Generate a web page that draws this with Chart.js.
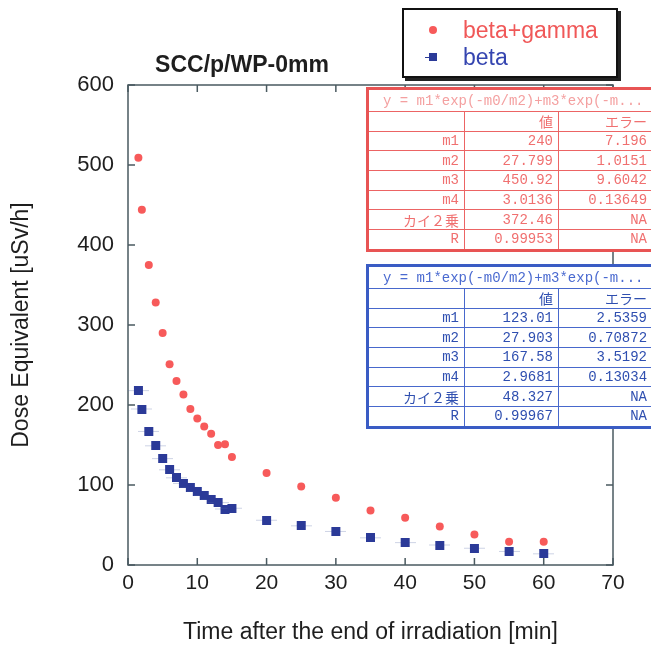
<!DOCTYPE html>
<html>
<head>
<meta charset="utf-8">
<script src="https://cdn.jsdelivr.net/npm/chart.js@4.4.0/dist/chart.umd.min.js"></script>
<style>
    html, body { margin: 0; padding: 0; background: #fff; }
    #wrap { position: relative; width: 651px; height: 649px; overflow: hidden; }
    #doseChart { position: absolute; left: 0; top: 0; }

    .legend {
        position: absolute; left: 402px; top: 8px; width: 212px; height: 66px;
        border: 2px solid #111; box-shadow: 3px 3px 0 #222; background: #fff;
        font-family: 'Liberation Sans', Arial, sans-serif; font-size: 23px;
    }
    .legend .item { position: absolute; left: 0; width: 100%; height: 26px; }
    .legend .mark { position: absolute; top: 13px; }
    .legend .label { position: absolute; left: 59px; top: 0; line-height: 26px; }

    .fit {
        position: absolute; left: 366px; width: 286px; table-layout: fixed;
        border-collapse: collapse; background: #fff;
        font-family: 'Liberation Mono', 'Noto Sans CJK JP', monospace; font-size: 14px;
    }
    .fit td { padding: 0 5px 0 0; text-align: right; height: 18.7px; line-height: 18px; white-space: nowrap; overflow: hidden; }
    .fit td.eq { text-align: left; padding-left: 14px; height: 21px; }
    .fit td.jp { font-family: 'Noto Sans CJK JP', sans-serif; }
    .fit.red { top: 87px; border: 3px solid #e85454; color: #f07070; }
    .fit.red td { border: 1px solid #ec6464; }
    .fit.red td.eq { color: #f4a0a0; }
    .fit.blue { top: 264px; border: 3px solid #3a5cc4; color: #2f4fb0; }
    .fit.blue td { border: 1px solid #4868cc; }
    .fit.blue td.eq { color: #4a6ad0; }
</style>
</head>
<body>
<div id="wrap">
    <canvas id="doseChart" width="651" height="649"></canvas>
    <div class="legend" id="legend"></div>
    <table class="fit red" id="fitRed"></table>
    <table class="fit blue" id="fitBlue"></table>
</div>
<script>
// Measured dose rate after irradiation stops
const times = [1.5, 2, 3, 4, 5, 6, 7, 8, 9, 10, 11, 12, 13, 14, 15, 20, 25, 30, 35, 40, 45, 50, 55, 60];
const betaGamma = [509, 444, 375, 328, 290, 251, 230, 213, 195, 183, 173, 164, 150, 151, 135, 115, 98, 84, 68, 59, 48, 38, 29, 29];
const beta = [218, 195, 167, 149, 133, 119, 109, 102, 97, 92, 87, 82, 78, 70, 71, 56, 49, 42, 34, 28, 25, 21, 17, 14];

const seriesNames = ['beta+gamma', 'beta'];
const chartTitle = 'SCC/p/WP-0mm';
const xTitle = 'Time after the end of irradiation [min]';
const yTitle = 'Dose Equivalent [uSv/h]';

// Two-exponential fit results
const fitEquation = 'y = m1*exp(-m0/m2)+m3*exp(-m...';
const fitHeader = ['', '値', 'エラー'];
const fitRows = ['m1', 'm2', 'm3', 'm4', 'カイ２乗', 'R'];
const fitBetaGammaValues = ['240', '27.799', '450.92', '3.0136', '372.46', '0.99953'];
const fitBetaGammaErrors = ['7.196', '1.0151', '9.6042', '0.13649', 'NA', 'NA'];
const fitBetaValues = ['123.01', '27.903', '167.58', '2.9681', '48.327', '0.99967'];
const fitBetaErrors = ['2.5359', '0.70872', '3.5192', '0.13034', 'NA', 'NA'];

const RED = '#f75a5a';
const BLUE = '#2b3a98';
const AXIS = '#4a5a60';
const FONT = "'Liberation Sans', Arial, sans-serif";

// Square marker with a faint horizontal error bar through it
function squareMarker() {
    const c = document.createElement('canvas');
    c.width = 21;
    c.height = 9;
    const g = c.getContext('2d');
    g.fillStyle = 'rgba(90, 110, 170, 0.3)';
    g.fillRect(0, 4, 21, 1);
    g.fillStyle = BLUE;
    g.fillRect(6, 0, 9, 9);
    return c;
}

const points = (ys) => times.map((t, i) => ({ x: t, y: ys[i] }));

// Box around the plot with inward ticks on all four sides, plus the title
const framePlugin = {
    id: 'frame',
    beforeDatasetsDraw(chart) {
        const { ctx, chartArea: a, scales: { x, y } } = chart;
        ctx.save();
        ctx.strokeStyle = AXIS;
        ctx.lineWidth = 1.5;
        ctx.strokeRect(a.left, a.top, a.right - a.left, a.bottom - a.top);
        ctx.beginPath();
        x.ticks.forEach((t) => {
            const px = x.getPixelForValue(t.value);
            ctx.moveTo(px, a.bottom); ctx.lineTo(px, a.bottom - 7);
            ctx.moveTo(px, a.top); ctx.lineTo(px, a.top + 7);
        });
        y.ticks.forEach((t) => {
            const py = y.getPixelForValue(t.value);
            ctx.moveTo(a.left, py); ctx.lineTo(a.left + 7, py);
            ctx.moveTo(a.right, py); ctx.lineTo(a.right - 7, py);
        });
        ctx.stroke();
        ctx.restore();
    },
    afterDraw(chart) {
        const { ctx, chartArea: a } = chart;
        ctx.save();
        ctx.font = `bold 23px ${FONT}`;
        ctx.fillStyle = '#1e1e1e';
        ctx.textAlign = 'center';
        ctx.textBaseline = 'middle';
        ctx.fillText(chartTitle, a.left + 114, a.top - 19);
        ctx.restore();
    },
};

const chart = new Chart(document.getElementById('doseChart'), {
    type: 'scatter',
    data: {
        datasets: [
            {
                label: seriesNames[0],
                data: points(betaGamma),
                pointStyle: 'circle',
                pointRadius: 4,
                backgroundColor: RED,
                borderWidth: 0,
            },
            {
                label: seriesNames[1],
                data: points(beta),
                pointStyle: squareMarker(),
                backgroundColor: BLUE,
                borderWidth: 0,
            },
        ],
    },
    options: {
        responsive: false,
        animation: false,
        layout: { padding: { top: 85, right: 38, left: 0, bottom: 0 } },
        plugins: { legend: { display: false }, tooltip: { enabled: false } },
        scales: {
            x: {
                type: 'linear', min: 0, max: 70,
                border: { display: false },
                grid: { display: false, drawTicks: false },
                ticks: { stepSize: 10, padding: 6, color: '#1e1e1e', font: { family: FONT, size: 21 } },
                title: { display: true, text: xTitle, color: '#1e1e1e', padding: { top: 0, bottom: 3 }, font: { family: FONT, size: 23 } },
                afterFit: (s) => { s.height = 84; },
            },
            y: {
                min: 0, max: 600,
                border: { display: false },
                grid: { display: false, drawTicks: false },
                ticks: { stepSize: 100, padding: 14, color: '#1e1e1e', font: { family: FONT, size: 22 } },
                title: { display: true, text: yTitle, color: '#1e1e1e', padding: { top: 8, bottom: 0 }, font: { family: FONT, size: 23 } },
                afterFit: (s) => { s.width = 128; },
            },
        },
    },
    plugins: [framePlugin],
});

// Legend built from the chart's datasets
function buildLegend() {
    const box = document.getElementById('legend');
    chart.data.datasets.forEach((ds, i) => {
        const item = document.createElement('div');
        item.className = 'item';
        item.style.top = (7 + i * 27) + 'px';
        const mark = document.createElement('div');
        mark.className = 'mark';
        if (i === 0) {
            Object.assign(mark.style, { left: '25px', width: '8px', height: '8px', marginTop: '-4px', borderRadius: '50%', background: RED });
        } else {
            Object.assign(mark.style, { left: '21px', width: '12px', height: '8px', marginTop: '-4px' });
            mark.innerHTML = `<div style="position:absolute;left:0;top:4px;width:5px;height:1px;background:${BLUE}"></div>`
                + `<div style="position:absolute;left:4px;top:0;width:8px;height:8px;background:${BLUE}"></div>`;
        }
        const label = document.createElement('div');
        label.className = 'label';
        label.style.color = i === 0 ? '#f05858' : '#3545b0';
        label.textContent = ds.label;
        item.append(mark, label);
        box.append(item);
    });
}

function buildFitTable(id, values, errors) {
    const table = document.getElementById(id);
    const cols = '<colgroup><col style="width:97px"><col style="width:94px"><col style="width:95px"></colgroup>';
    let html = cols + `<tr><td class="eq" colspan="3">${fitEquation}</td></tr>`;
    html += '<tr>' + fitHeader.map((h) => `<td class="jp">${h}</td>`).join('') + '</tr>';
    fitRows.forEach((name, i) => {
        const cls = /[^\x00-\x7f]/.test(name) ? ' class="jp"' : '';
        html += `<tr><td${cls}>${name}</td><td>${values[i]}</td><td>${errors[i]}</td></tr>`;
    });
    table.innerHTML = html;
}

buildLegend();
buildFitTable('fitRed', fitBetaGammaValues, fitBetaGammaErrors);
buildFitTable('fitBlue', fitBetaValues, fitBetaErrors);
</script>
</body>
</html>
